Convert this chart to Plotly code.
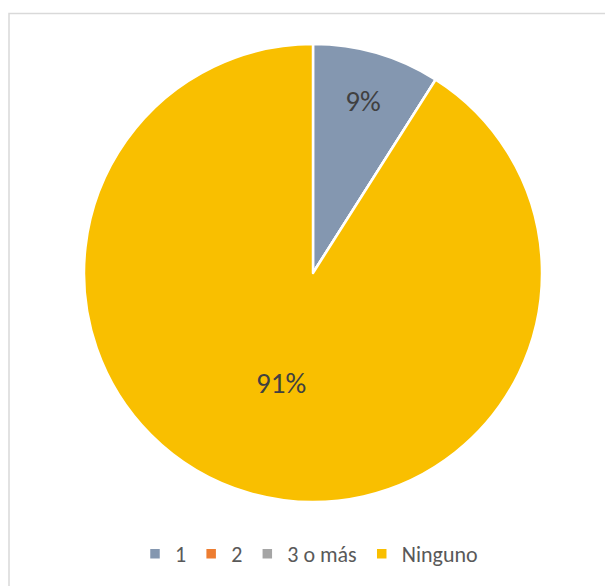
import plotly.graph_objects as go

categorias = ["1", "2", "3 o más", "Ninguno"]
valores = [9, 0, 0, 91]
colores = ["#8497B0", "#ED7D31", "#A5A5A5", "#F9BF00"]
etiquetas = ["%{percent:.0%}", "", "", "%{percent:.0%}"]

W, H = 613, 586
dx, dy = 8, 8  # la página añade 8px de margen al cuerpo

fig = go.Figure(go.Pie(
    labels=categorias,
    values=valores,
    sort=False,
    direction="clockwise",
    rotation=0,
    texttemplate=etiquetas,
    textposition="inside",
    insidetextorientation="horizontal",
    textfont=dict(size=29, color="#404040"),
    marker=dict(colors=colores, line=dict(color="white", width=2.5)),
    hoverinfo="label+percent",
    domain=dict(x=[(84 - dx) / W, (542 - dx) / W], y=[1 - (502 - dy) / H, 1 - (44 - dy) / H]),
))

fig.update_layout(
    width=W, height=H,
    autosize=False,
    margin=dict(l=0, r=0, t=0, b=0),
    paper_bgcolor="white",
    font=dict(family="Calibri, Carlito, Lato, sans-serif", color="#595959"),
    uniformtext=dict(minsize=29, mode="show"),
    showlegend=True,
    legend=dict(orientation="h", x=(309 - dx) / W, xanchor="center", y=1 - (554 - dy) / H, yanchor="middle",
                font=dict(size=22, color="#595959"), itemwidth=30, traceorder="normal"),
    shapes=[dict(type="rect", xref="paper", yref="paper",
                 x0=1 / W, x1=1.05, y0=-0.05, y1=1 - (13.5 - dy) / H,
                 line=dict(color="#D9D9D9", width=1.5), layer="below")],
)

fig.write_html("out.html")
